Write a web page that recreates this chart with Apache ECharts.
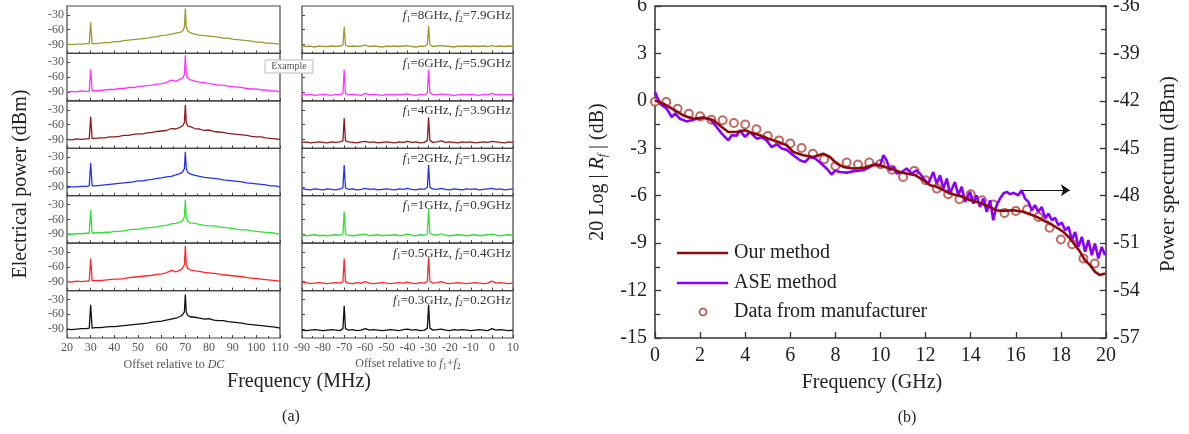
<!DOCTYPE html>
<html>
<head>
<meta charset="utf-8">
<script src="https://cdn.jsdelivr.net/npm/echarts@6/dist/echarts.min.js"></script>
<style>
html, body { margin: 0; padding: 0; background: #fff; }
#chart { width: 1189px; height: 434px; }
</style>
</head>
<body>
<div id="chart"></div>
<script>
const SERIF = '"Liberation Serif", "Times New Roman", serif';

// ---- (a) beat spectra ----
const dcFreq = [20,22,24,26,28,29.4,30,30.6,32,34,36,38,40,42,44,46,48,50,52,54,56,58,60,62,64,66,68,69,69.6,70,70.4,71,72,74,76,78,80,82,84,86,88,90,92,94,96,98,100,102,104,106,108,110];
const sumFreq = [-90,-88,-86,-84,-82,-80,-78,-76,-74,-72,-70.6,-70,-69.4,-68,-66,-64,-62,-60,-58,-56,-54,-52,-50,-48,-46,-44,-42,-40,-38,-36,-34,-32,-30.6,-30,-29.4,-28,-26,-24,-22,-20,-18,-16,-14,-12,-10,-8,-6,-4,-2,0,2,4,6,8,10];

const dc8G  = [-89,-90,-89,-89,-88,-88,-45,-88,-88,-87,-86,-86,-84,-84,-82,-81,-80,-79,-78,-77,-75,-74,-72,-71,-69,-67,-65,-62,-55,-17,-55,-62,-66,-69,-71,-72,-73,-74,-75,-77,-77,-79,-80,-81,-82,-83,-85,-85,-87,-87,-88,-89];
const dc6G  = [-90,-89,-90,-88,-89,-89,-44,-88,-87,-87,-86,-85,-85,-83,-83,-81,-81,-79,-78,-77,-76,-74,-73,-71,-66,-68,-64,-61,-54,-16,-55,-62,-65,-68,-70,-71,-73,-74,-76,-76,-78,-79,-80,-81,-83,-84,-84,-86,-86,-88,-88,-90];
const dc4G  = [-90,-91,-89,-90,-89,-89,-44,-88,-88,-87,-87,-85,-85,-84,-82,-82,-80,-79,-79,-77,-76,-74,-73,-72,-68,-69,-65,-62,-56,-20,-56,-63,-64,-68,-69,-72,-71,-74,-75,-76,-78,-79,-80,-81,-82,-84,-85,-85,-87,-88,-89,-90];
const dc2G  = [-89,-90,-90,-89,-89,-88,-42,-88,-88,-87,-86,-85,-84,-83,-82,-81,-80,-78,-78,-76,-75,-73,-72,-70,-69,-66,-63,-59,-53,-19,-54,-60,-64,-67,-69,-71,-72,-73,-74,-76,-77,-78,-79,-80,-82,-83,-84,-85,-86,-88,-88,-90];
const dc1G  = [-89,-90,-89,-89,-88,-88,-41,-88,-87,-87,-86,-86,-84,-84,-83,-81,-80,-80,-78,-77,-76,-75,-73,-72,-69,-68,-65,-61,-55,-20,-56,-63,-67,-68,-70,-72,-73,-73,-75,-76,-77,-78,-80,-81,-81,-83,-84,-85,-86,-87,-88,-90];
const dc05G = [-90,-91,-89,-90,-89,-89,-43,-88,-88,-88,-87,-86,-85,-85,-84,-82,-81,-80,-79,-78,-77,-75,-74,-72,-67,-70,-66,-62,-55,-18,-56,-63,-66,-68,-69,-71,-72,-73,-74,-76,-77,-78,-79,-80,-82,-83,-84,-85,-86,-87,-88,-89];
const dc03G = [-90,-91,-90,-89,-89,-88,-41,-88,-87,-87,-86,-85,-85,-84,-83,-82,-81,-80,-79,-78,-76,-75,-74,-72,-70,-68,-64,-60,-55,-20,-56,-62,-65,-66,-68,-70,-69,-72,-73,-73,-75,-76,-77,-78,-80,-81,-82,-83,-84,-85,-86,-88];

const sum8G  = [-93,-94,-93,-95,-93,-94,-94,-93,-94,-93,-91,-54,-91,-94,-93,-94,-93,-91,-94,-93,-94,-95,-93,-94,-93,-94,-93,-92,-94,-95,-93,-94,-90,-52,-90,-94,-93,-92,-93,-94,-95,-93,-94,-93,-94,-93,-94,-93,-94,-92,-94,-93,-94,-93,-94];
const sum6G  = [-95,-96,-95,-97,-96,-95,-96,-97,-95,-96,-93,-45,-93,-96,-95,-96,-97,-93,-96,-95,-96,-97,-95,-96,-95,-96,-95,-94,-96,-97,-95,-96,-92,-45,-92,-95,-96,-94,-95,-96,-97,-96,-95,-96,-95,-96,-97,-95,-96,-93,-96,-95,-96,-95,-96];
const sum4G  = [-96,-95,-97,-96,-95,-96,-97,-95,-96,-95,-93,-47,-93,-95,-96,-97,-95,-94,-96,-95,-97,-96,-95,-96,-97,-95,-96,-94,-96,-95,-97,-96,-92,-45,-92,-96,-95,-93,-96,-95,-96,-97,-95,-96,-95,-97,-96,-95,-96,-94,-95,-96,-97,-95,-96];
const sum2G  = [-94,-95,-96,-94,-95,-96,-94,-95,-96,-94,-92,-46,-92,-95,-94,-96,-95,-93,-95,-94,-96,-95,-94,-95,-96,-94,-95,-93,-95,-96,-94,-95,-91,-46,-91,-94,-95,-93,-95,-96,-94,-95,-96,-94,-95,-94,-96,-95,-94,-93,-95,-94,-96,-95,-94];
const sum1G  = [-92,-93,-92,-91,-93,-92,-93,-92,-91,-92,-90,-44,-90,-92,-93,-92,-91,-90,-93,-92,-91,-93,-92,-92,-91,-93,-92,-90,-92,-93,-91,-92,-89,-38,-88,-91,-92,-89,-92,-93,-92,-91,-92,-93,-92,-91,-93,-92,-91,-90,-92,-93,-92,-91,-92];
const sum05G = [-93,-92,-94,-93,-92,-93,-94,-93,-92,-93,-90,-43,-90,-93,-94,-92,-93,-90,-93,-94,-93,-92,-93,-94,-93,-92,-93,-91,-93,-94,-92,-93,-89,-40,-89,-93,-92,-90,-93,-94,-93,-92,-93,-94,-93,-92,-93,-94,-93,-89,-93,-92,-93,-94,-93];
const sum03G = [-92,-93,-92,-91,-92,-93,-92,-91,-92,-93,-89,-43,-89,-92,-91,-93,-92,-89,-92,-91,-92,-93,-92,-91,-92,-93,-91,-90,-92,-91,-93,-92,-88,-41,-88,-92,-91,-90,-92,-93,-91,-92,-91,-92,-93,-92,-91,-92,-93,-89,-92,-91,-92,-93,-92];

const dcPower = [dc8G, dc6G, dc4G, dc2G, dc1G, dc05G, dc03G];
const sumPower = [sum8G, sum6G, sum4G, sum2G, sum1G, sum05G, sum03G];
const f1Labels = ['8', '6', '4', '2', '1', '0.5', '0.3'];
const f2Labels = ['7.9', '5.9', '3.9', '1.9', '0.9', '0.4', '0.2'];
const panelColors = ['#9c9a2e', '#ff33ff', '#8e1c1c', '#2233f2', '#33e033', '#ff2626', '#111111'];
const powerTicks = [-90, -60, -30];

// ---- (b) relative response ----
const ourFreq = [0,0.37,0.81,1.26,1.7,2.14,2.59,2.96,3.25,3.62,3.99,4.29,4.66,5.03,5.47,5.84,6.13,6.58,7.02,7.46,7.76,8.06,8.35,8.8,9.24,9.61,9.98,10.27,10.57,10.86,11.16,11.53,11.9,12.2,12.49,12.79,13.08,13.38,13.67,13.97,14.26,14.56,14.86,15.08,15.45,15.89,16.33,16.63,16.93,17.22,17.52,17.81,18.11,18.4,18.63,18.85,19.07,19.29,19.51,19.73,19.96];
const ourDb = [0.03,-0.18,-0.54,-0.92,-1.13,-1.06,-1.23,-1.65,-1.97,-1.97,-1.86,-2.03,-2.18,-2.39,-2.6,-2.81,-3.23,-3.44,-3.55,-3.34,-3.55,-3.97,-4.18,-4.28,-4.24,-4.07,-4.07,-4.22,-4.35,-4.5,-4.6,-4.7,-5.02,-5.34,-5.44,-5.65,-5.86,-5.97,-6.08,-6.29,-6.39,-6.54,-6.71,-6.92,-6.96,-6.92,-7.02,-7.17,-7.34,-7.55,-7.76,-8.01,-8.29,-8.7,-9.13,-9.55,-10.08,-10.39,-10.81,-11.02,-10.92];

const aseFreq = [0,0.22,0.52,0.74,0.89,1.11,1.4,1.63,1.85,2.14,2.44,2.73,2.96,3.25,3.4,3.62,3.77,3.99,4.21,4.51,4.73,4.95,5.17,5.4,5.62,5.84,6.13,6.43,6.65,6.87,7.1,7.32,7.61,7.84,7.98,8.2,8.5,8.8,9.24,9.54,9.76,9.98,10.13,10.27,10.42,10.57,10.72,10.94,11.16,11.38,11.6,11.75,11.97,12.12,12.34,12.49,12.64,12.79,12.94,13.08,13.3,13.45,13.6,13.75,13.97,14.12,14.26,14.41,14.56,14.71,14.86,15,15.15,15.3,15.45,15.6,15.74,15.89,16.11,16.26,16.41,16.56,16.71,16.85,17,17.15,17.3,17.45,17.6,17.74,17.89,18.04,18.19,18.34,18.48,18.63,18.78,18.93,19.07,19.22,19.37,19.51,19.66,19.81,19.96];
const aseDbm = [-41.44,-42.18,-42.5,-43.02,-42.81,-43.13,-43.3,-43.23,-43.13,-43.06,-43.16,-43.65,-44.07,-44.5,-44.18,-44.2,-43.86,-44.28,-43.97,-44.39,-44.3,-44.5,-44.92,-44.75,-45.02,-45.1,-45.44,-45.76,-45.87,-45.55,-45.65,-45.9,-46.28,-46.66,-46.4,-46.5,-46.54,-46.45,-46.39,-46.18,-45.97,-46.1,-45.44,-45.76,-46.39,-46.18,-46.6,-46.5,-46.28,-46.6,-46.39,-46.6,-47.02,-47.24,-46.5,-47.24,-46.71,-47.55,-46.92,-47.86,-47.13,-47.97,-47.44,-48.39,-47.76,-48.5,-47.97,-48.71,-48.18,-49.02,-48.29,-49.55,-48.6,-48.18,-47.86,-47.76,-47.9,-47.82,-47.97,-47.65,-48.18,-48.39,-48.92,-48.6,-49.02,-48.71,-49.44,-49.13,-49.55,-49.4,-49.87,-49.7,-50.18,-49.97,-50.81,-50.29,-51.24,-50.6,-51.55,-50.81,-51.76,-51.02,-51.97,-51.24,-51.76];

const mfrFreq = [0,0.5,1,1.5,2,2.5,3,3.5,4,4.5,5,5.5,6,6.5,7,7.5,8,8.5,9,9.5,10,10.5,11,11.5,12,12.5,13,13.5,14,14.5,15,15.5,16,16.5,17,17.5,18,18.5,19,19.5];
const mfrDb = [-0.05,-0.07,-0.5,-0.81,-0.98,-1.19,-1.23,-1.4,-1.5,-1.8,-2.22,-2.5,-2.7,-2.98,-3.34,-3.7,-4.12,-3.9,-4.03,-3.9,-4.0,-4.35,-4.81,-4.43,-5.02,-5.55,-5.91,-6.22,-5.91,-6.29,-6.56,-7.09,-6.96,-6.87,-7.34,-8.03,-8.77,-9.07,-9.97,-10.29];

// arrow pointing ASE curve to right-hand axis
const arrowFrom = [16.3, -47.65];
const arrowTo = [18.4, -47.65];

const pairs = (xs, ys) => xs.map((x, i) => [x, ys[i]]);

const chart = echarts.init(document.getElementById('chart'), null, { renderer: 'canvas' });

const grids = [], xAxes = [], yAxes = [], series = [], graphics = [];
const panelTop = 6, panelH = 332 / 7;

function addPanel(g, left, width, xmin, xmax, data, color, isLeft, isBottom) {
    grids.push({
        left: left, width: width, top: panelTop + (g % 7) * panelH, height: panelH,
        show: true, borderColor: '#444', borderWidth: 1.2, backgroundColor: 'transparent',
        containLabel: false, outerBoundsMode: 'none'
    });
    xAxes.push({
        type: 'value', gridIndex: g, min: xmin, max: xmax, interval: 10,
        axisLine: { show: false, onZero: false }, splitLine: { show: false },
        axisTick: { show: true, inside: true, length: 3, lineStyle: { color: '#444' } },
        minorTick: { show: true, splitNumber: 2, length: 2, lineStyle: { color: '#444' } },
        axisLabel: { show: isBottom, color: '#555', fontFamily: SERIF, fontSize: 12, margin: 4, hideOverlap: false }
    });
    yAxes.push({
        type: 'value', gridIndex: g, min: -108, max: -12,
        axisLine: { show: false, onZero: false }, splitLine: { show: false },
        axisTick: { show: true, inside: true, length: 3, customValues: powerTicks, lineStyle: { color: '#444' } },
        axisLabel: { show: isLeft, customValues: powerTicks, color: '#555', fontFamily: SERIF, fontSize: 12, margin: 3 }
    });
    series.push({
        type: 'line', xAxisIndex: g, yAxisIndex: g, data: data,
        symbol: 'none', lineStyle: { color: color, width: 1.3 }, itemStyle: { color: color },
        silent: true
    });
}

for (let i = 0; i < 7; i++) {
    addPanel(i, 67, 213, 20, 110, pairs(dcFreq, dcPower[i]), panelColors[i], true, i === 6);
}
for (let i = 0; i < 7; i++) {
    addPanel(7 + i, 302, 211, -90, 10, pairs(sumFreq, sumPower[i]), panelColors[i], false, i === 6);
    graphics.push({
        type: 'text', x: 511, y: panelTop + i * panelH + 10,
        style: {
            text: '{i|f}{s|1}{n|=' + f1Labels[i] + 'GHz, }{i|f}{s|2}{n|=' + f2Labels[i] + 'GHz}',
            align: 'right', verticalAlign: 'middle',
            rich: {
                n: { fontFamily: SERIF, fontSize: 13, fill: '#333' },
                i: { fontFamily: SERIF, fontSize: 13, fontStyle: 'italic', fill: '#333' },
                s: { fontFamily: SERIF, fontSize: 8, fill: '#333', padding: [7, 0, 0, 0] }
            }
        }
    });
}

// ---- (b) grid ----
grids.push({
    left: 655, width: 451, top: 6, height: 332,
    show: true, borderColor: '#333', borderWidth: 1.5, backgroundColor: 'transparent',
    containLabel: false, outerBoundsMode: 'none'
});
const bigLabel = { color: '#222', fontFamily: SERIF, fontSize: 20 };
xAxes.push({
    type: 'value', gridIndex: 14, min: 0, max: 20, interval: 2,
    axisLine: { show: false, onZero: false }, splitLine: { show: false },
    axisTick: { show: true, inside: true, length: 6, lineStyle: { color: '#333', width: 1.3 } },
    axisLabel: Object.assign({ margin: 8 }, bigLabel)
});
yAxes.push({
    type: 'value', gridIndex: 14, position: 'left', min: -15, max: 6, interval: 3,
    axisLine: { show: false, onZero: false }, splitLine: { show: false },
    axisTick: { show: true, inside: true, length: 6, lineStyle: { color: '#333', width: 1.3 } },
    minorTick: { show: true, splitNumber: 2, length: 5, lineStyle: { color: '#333', width: 1.3 } },
    axisLabel: Object.assign({ margin: 8 }, bigLabel)
});
yAxes.push({
    type: 'value', gridIndex: 14, position: 'right', min: -57, max: -36, interval: 3,
    axisLine: { show: false, onZero: false }, splitLine: { show: false },
    axisTick: { show: true, inside: true, length: 6, lineStyle: { color: '#333', width: 1.3 } },
    minorTick: { show: true, splitNumber: 2, length: 5, lineStyle: { color: '#333', width: 1.3 } },
    axisLabel: Object.assign({ margin: 7 }, bigLabel)
});

series.push({
    name: 'ASE method', type: 'line', xAxisIndex: 14, yAxisIndex: 15,
    data: pairs(aseFreq, aseDbm), symbol: 'none',
    lineStyle: { color: '#8a00ff', width: 2.6 }, itemStyle: { color: '#8a00ff' },
    markLine: {
        silent: true, symbol: ['none', 'arrow'], symbolSize: 9,
        label: { show: false },
        lineStyle: { color: '#111', width: 1, type: 'solid' },
        itemStyle: { color: '#111' },
        emphasis: { disabled: true },
        data: [[{ coord: arrowFrom }, { coord: arrowTo }]]
    }
});
series.push({
    name: 'Our method', type: 'line', xAxisIndex: 14, yAxisIndex: 14,
    data: pairs(ourFreq, ourDb), symbol: 'none',
    lineStyle: { color: '#8b0a0a', width: 2.6 }, itemStyle: { color: '#8b0a0a' }
});
series.push({
    name: 'Data from manufacturer', type: 'scatter', xAxisIndex: 14, yAxisIndex: 14,
    data: pairs(mfrFreq, mfrDb), symbol: 'emptyCircle', symbolSize: 8,
    itemStyle: { color: '#b3433b', borderColor: '#b3433b', borderWidth: 1.6 }
});

// ---- texts ----
function txt(x, y, text, size, extra, fill) {
    return Object.assign({
        type: 'text', x: x, y: y,
        style: { text: text, fontFamily: SERIF, fontSize: size, fill: fill || '#222', align: 'center', verticalAlign: 'middle' }
    }, extra || {});
}
graphics.push(txt(21, 184, 'Electrical power (dBm)', 20, { rotation: Math.PI / 2 }));
graphics.push(txt(299, 382, 'Frequency (MHz)', 20));
graphics.push(txt(291, 417, '(a)', 16));
graphics.push({
    type: 'text', x: 174, y: 365,
    style: {
        text: '{n|Offset relative to }{i|DC}', align: 'center', verticalAlign: 'middle',
        rich: {
            n: { fontFamily: SERIF, fontSize: 12, fill: '#555' },
            i: { fontFamily: SERIF, fontSize: 12, fontStyle: 'italic', fill: '#555' }
        }
    }
});
graphics.push({
    type: 'text', x: 408, y: 364,
    style: {
        text: '{n|Offset relative to }{i|f}{s|1}{n|+}{i|f}{s|2}', align: 'center', verticalAlign: 'middle',
        rich: {
            n: { fontFamily: SERIF, fontSize: 12, fill: '#555' },
            i: { fontFamily: SERIF, fontSize: 12, fontStyle: 'italic', fill: '#555' },
            s: { fontFamily: SERIF, fontSize: 8, fill: '#555', padding: [6, 0, 0, 0] }
        }
    }
});
// "Example" tag, drawn over the panel borders
graphics.push({
    type: 'rect', z: 100, shape: { x: 265, y: 60, width: 48, height: 13 },
    style: { fill: '#fff', stroke: '#bbb', lineWidth: 1 }
});
graphics.push(txt(289, 66.5, 'Example', 10, { z: 101 }, '#555'));

graphics.push(txt(872, 383, 'Frequency (GHz)', 20));
graphics.push(txt(907, 418, '(b)', 16));
graphics.push({
    type: 'text', x: 598, y: 172, rotation: Math.PI / 2,
    style: {
        text: '{n|20 Log | }{i|R}{s|f}{n| | (dB)}', align: 'center', verticalAlign: 'middle',
        rich: {
            n: { fontFamily: SERIF, fontSize: 20, fill: '#222' },
            i: { fontFamily: SERIF, fontSize: 20, fontStyle: 'italic', fill: '#222' },
            s: { fontFamily: SERIF, fontSize: 12, fontStyle: 'italic', fill: '#222', padding: [10, 0, 0, 0] }
        }
    }
});
graphics.push(txt(1168, 174, 'Power spectrum (dBm)', 21, { rotation: Math.PI / 2 }));

// legend of (b)
const legendRows = [
    { y: 253, label: 'Our method', color: '#8b0a0a', kind: 'line' },
    { y: 283, label: 'ASE method', color: '#8a00ff', kind: 'line' },
    { y: 312, label: 'Data from manufacturer', color: '#b3433b', kind: 'circle' }
];
legendRows.forEach(function (r) {
    if (r.kind === 'line') {
        graphics.push({ type: 'line', shape: { x1: 677, y1: r.y, x2: 728, y2: r.y }, style: { stroke: r.color, lineWidth: 2.6 } });
    } else {
        graphics.push({ type: 'circle', shape: { cx: 703, cy: r.y, r: 3.5 }, style: { fill: '#fff', stroke: r.color, lineWidth: 1.6 } });
    }
    graphics.push({
        type: 'text', x: 734, y: r.y,
        style: { text: r.label, fontFamily: SERIF, fontSize: 20, fill: '#222', align: 'left', verticalAlign: 'middle' }
    });
});

chart.setOption({
    animation: false,
    backgroundColor: '#fff',
    textStyle: { fontFamily: SERIF },
    grid: grids,
    xAxis: xAxes,
    yAxis: yAxes,
    series: series,
    graphic: graphics
});

window.addEventListener('resize', function () {
    chart.resize();
});
</script>
</body>
</html>
